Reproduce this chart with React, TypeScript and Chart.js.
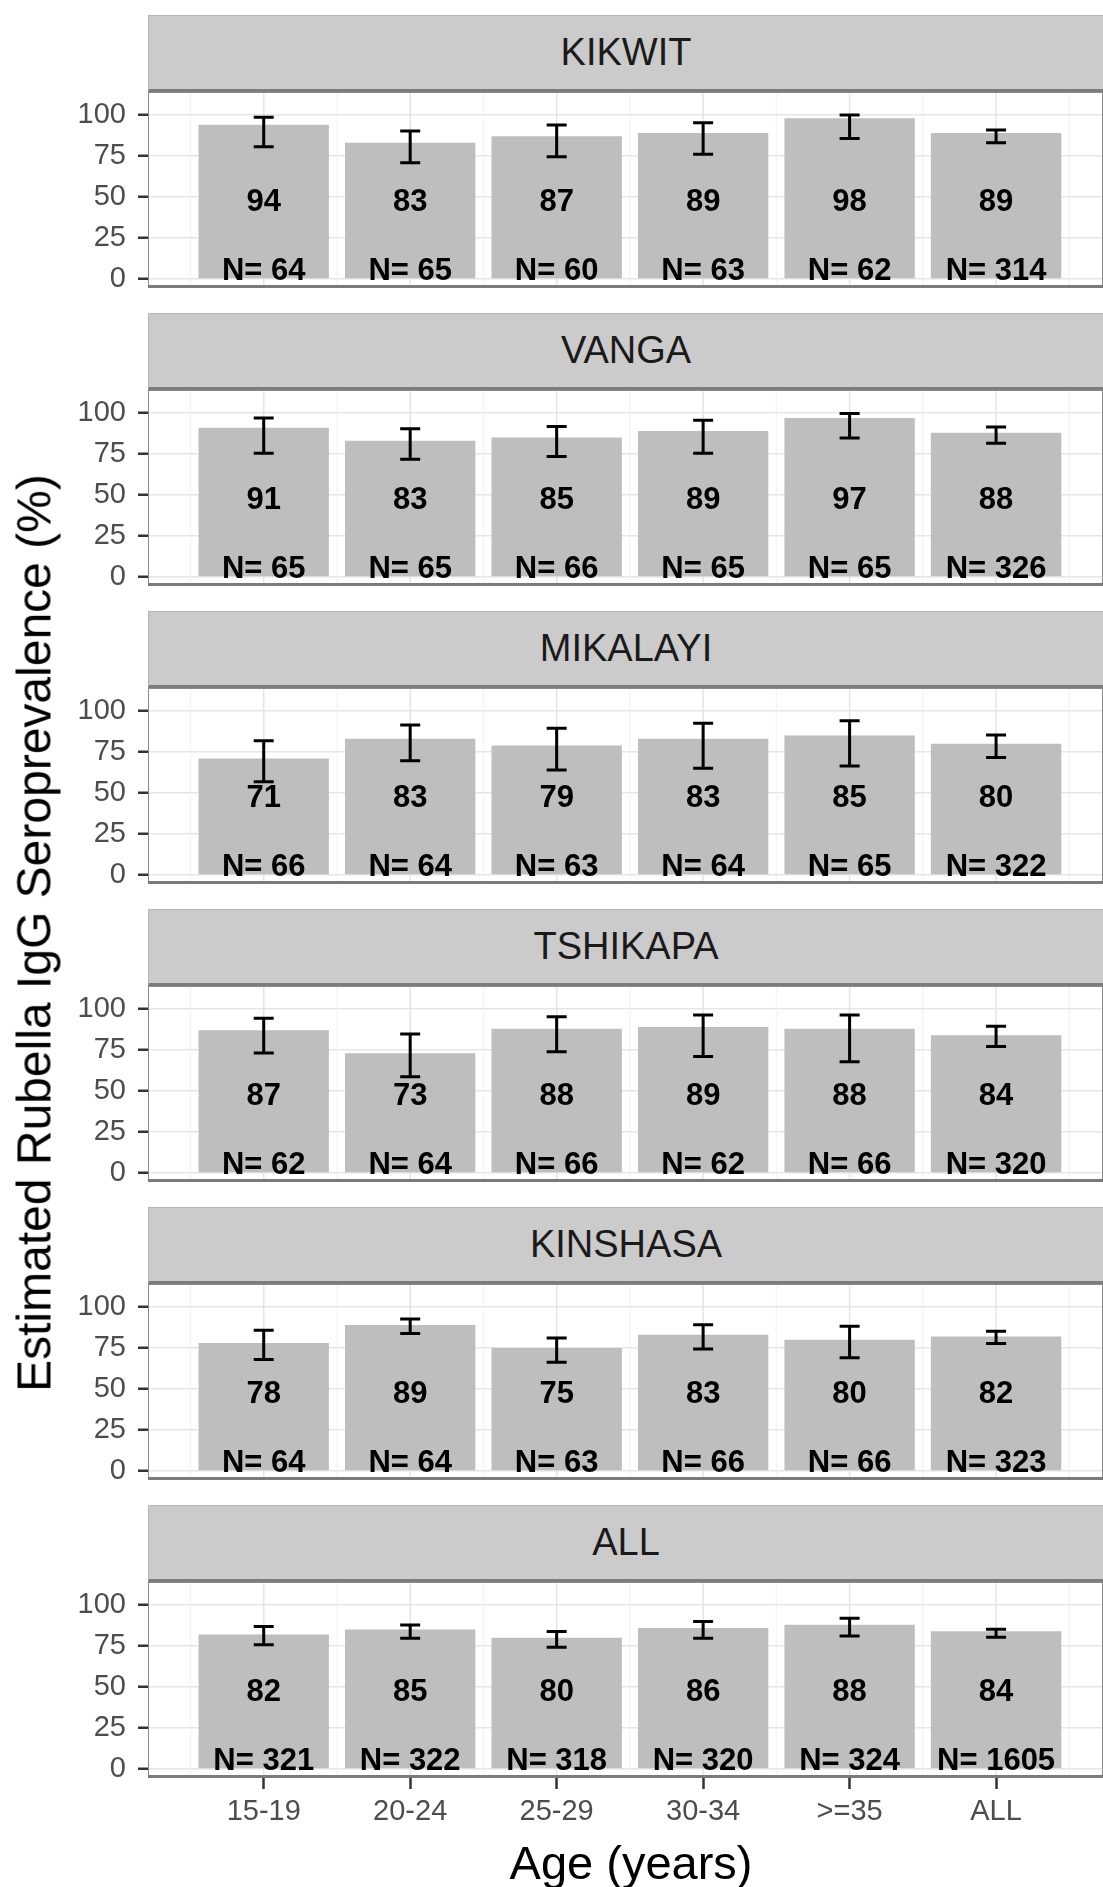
import React, { useEffect, useRef } from 'react';
import { Chart, registerables } from 'chart.js';

Chart.register(...registerables);

// ---------- data ----------
const AGE_GROUPS = ['15-19', '20-24', '25-29', '30-34', '>=35', 'ALL'];
const Y_TICKS = [0, 25, 50, 75, 100];
const Y_MINOR = [12.5, 37.5, 62.5, 87.5, 112.5];

const KIKWIT_PCT = [94, 83, 87, 89, 98, 89];
const KIKWIT_LO = [80.6, 70.8, 74.5, 76.1, 85.7, 83.1];
const KIKWIT_HI = [98.6, 90.2, 93.9, 95.3, 100, 90.8];
const KIKWIT_N = [64, 65, 60, 63, 62, 314];

const VANGA_PCT = [91, 83, 85, 89, 97, 88];
const VANGA_LO = [75.5, 71.8, 73.5, 75.5, 84.7, 81.6];
const VANGA_HI = [97, 90.4, 91.8, 95.5, 99.6, 91.4];
const VANGA_N = [65, 65, 66, 65, 65, 326];

const MIKALAYI_PCT = [71, 83, 79, 83, 85, 80];
const MIKALAYI_LO = [56.9, 69.7, 64, 65, 66.5, 71.7];
const MIKALAYI_HI = [81.9, 91.5, 89.4, 92.5, 94.1, 85.4];
const MIKALAYI_N = [66, 64, 63, 64, 65, 322];

const TSHIKAPA_PCT = [87, 73, 88, 89, 88, 84];
const TSHIKAPA_LO = [73.1, 58.6, 73.9, 71, 67.8, 77.1];
const TSHIKAPA_HI = [94.3, 84.7, 95.3, 96.3, 96.3, 89.4];
const TSHIKAPA_N = [62, 64, 66, 62, 66, 320];

const KINSHASA_PCT = [78, 89, 75, 83, 80, 82];
const KINSHASA_LO = [68, 83.8, 66.3, 74.4, 69, 77.7];
const KINSHASA_HI = [85.8, 92.7, 81.1, 89.2, 88.2, 85.2];
const KINSHASA_N = [64, 64, 63, 66, 66, 323];

const ALL_PCT = [82, 85, 80, 86, 88, 84];
const ALL_LO = [75.7, 79.7, 74.2, 79.7, 81.1, 80.3];
const ALL_HI = [86.8, 87.8, 83.8, 89.9, 91.9, 85.2];
const ALL_N = [321, 322, 318, 320, 324, 1605];

const PANELS = [
  { name: 'KIKWIT', pct: KIKWIT_PCT, lo: KIKWIT_LO, hi: KIKWIT_HI, n: KIKWIT_N },
  { name: 'VANGA', pct: VANGA_PCT, lo: VANGA_LO, hi: VANGA_HI, n: VANGA_N },
  { name: 'MIKALAYI', pct: MIKALAYI_PCT, lo: MIKALAYI_LO, hi: MIKALAYI_HI, n: MIKALAYI_N },
  { name: 'TSHIKAPA', pct: TSHIKAPA_PCT, lo: TSHIKAPA_LO, hi: TSHIKAPA_HI, n: TSHIKAPA_N },
  { name: 'KINSHASA', pct: KINSHASA_PCT, lo: KINSHASA_LO, hi: KINSHASA_HI, n: KINSHASA_N },
  { name: 'ALL', pct: ALL_PCT, lo: ALL_LO, hi: ALL_HI, n: ALL_N },
];

// ---------- style / layout ----------
const FONT = '"Liberation Sans", Arial, Helvetica, sans-serif';
const BAR_COLOR = '#bebebe';
const STRIP_COLOR = '#cbcbcb';
const PAGE_W = 1103;
const PLOT_LEFT = 148;
const FIRST_TOP = 15;
const PITCH = 298;
const STRIP_H = 77;
const PLOT_H = 196;
const X_AXIS_H = 62;
const Y_MIN = -5.5;
const Y_MAX = 114;
const X_MIN = -0.79;
const X_MAX = 5.73;
const LABEL_Y = 46.5;

const decorPlugin = {
  id: 'decor',
  beforeDatasetsDraw(chart: any) {
    const { ctx, chartArea: a, scales } = chart;
    const xs = scales.x;
    ctx.save();
    for (let i = -0.5; i <= AGE_GROUPS.length - 0.5; i += 1) {
      const px = xs.getPixelForValue(i);
      if (px < a.left || px > a.right) continue;
      ctx.strokeStyle = '#f1f1f1';
      ctx.lineWidth = 1;
      ctx.beginPath();
      ctx.moveTo(px, a.top);
      ctx.lineTo(px, a.bottom);
      ctx.stroke();
    }
    AGE_GROUPS.forEach((_, i) => {
      const px = xs.getPixelForValue(i);
      ctx.strokeStyle = '#e4e4e4';
      ctx.lineWidth = 1.5;
      ctx.beginPath();
      ctx.moveTo(px, a.top);
      ctx.lineTo(px, a.bottom);
      ctx.stroke();
    });
    ctx.restore();
  },
  afterDatasetsDraw(chart: any, _args: any, opts: any) {
    const { ctx, chartArea: a, scales } = chart;
    const xs = scales.x;
    const ys = scales.y;
    const p = PANELS[opts.panel];
    ctx.save();
    // error bars
    ctx.strokeStyle = '#000';
    ctx.lineWidth = 3;
    const capHalf = 10;
    p.pct.forEach((_, i) => {
      const px = xs.getPixelForValue(i);
      const yl = ys.getPixelForValue(p.lo[i]);
      const yh = ys.getPixelForValue(p.hi[i]);
      ctx.beginPath();
      ctx.moveTo(px, yl);
      ctx.lineTo(px, yh);
      ctx.moveTo(px - capHalf, yl);
      ctx.lineTo(px + capHalf, yl);
      ctx.moveTo(px - capHalf, yh);
      ctx.lineTo(px + capHalf, yh);
      ctx.stroke();
    });
    // labels
    ctx.fillStyle = '#000';
    ctx.textAlign = 'center';
    ctx.font = 'bold 31px ' + FONT;
    p.pct.forEach((v, i) => {
      const px = xs.getPixelForValue(i);
      ctx.textBaseline = 'middle';
      ctx.fillText(String(v), px, ys.getPixelForValue(LABEL_Y));
      ctx.textBaseline = 'alphabetic';
      ctx.fillText('N= ' + p.n[i], px, ys.getPixelForValue(0) + 1);
    });
    // panel border
    ctx.strokeStyle = '#8a8a8a';
    ctx.lineWidth = 1;
    ctx.strokeRect(a.left + 0.5, a.top + 0.5, a.right - a.left - 1, a.bottom - a.top - 1);
    ctx.strokeStyle = '#7a7a7a';
    ctx.lineWidth = 3;
    ctx.beginPath();
    ctx.moveTo(a.left, a.bottom - 1.5);
    ctx.lineTo(a.right, a.bottom - 1.5);
    ctx.stroke();
    ctx.restore();
  },
};

function Panel({ index }: { index: number }) {
  const ref = useRef<HTMLCanvasElement>(null);
  const isLast = index === PANELS.length - 1;
  const canvasH = PLOT_H + (isLast ? X_AXIS_H : 0);
  const top = FIRST_TOP + PITCH * index;

  useEffect(() => {
    const p = PANELS[index];
    const chart = new Chart(ref.current as HTMLCanvasElement, {
      type: 'bar',
      data: {
        datasets: [
          {
            data: p.pct.map((v, i) => ({ x: i, y: v })) as any,
            backgroundColor: BAR_COLOR,
            borderWidth: 0,
            barPercentage: 0.89,
            categoryPercentage: 1,
          },
        ],
      },
      options: {
        animation: false,
        responsive: false,
        maintainAspectRatio: false,
        layout: { padding: 0 },
        plugins: {
          legend: { display: false },
          tooltip: { enabled: false },
          decor: { panel: index },
        } as any,
        scales: {
          x: {
            type: 'linear',
            display: isLast,
            offset: false,
            min: X_MIN,
            max: X_MAX,
            afterBuildTicks: (s: any) => {
              s.ticks = AGE_GROUPS.map((_, i) => ({ value: i }));
            },
            ticks: {
              autoSkip: false,
              maxRotation: 0,
              padding: 6,
              color: '#4d4d4d',
              font: { family: FONT, size: 29 },
              callback: (v: any) => AGE_GROUPS[v] ?? '',
            },
            grid: {
              display: true,
              offset: false,
              drawOnChartArea: false,
              drawTicks: true,
              tickLength: 11,
              tickWidth: 2.5,
              tickColor: '#333',
            },
            border: { display: false },
            afterFit: (s: any) => {
              s.paddingLeft = 0;
              s.paddingRight = 0;
              if (isLast) s.height = X_AXIS_H;
            },
          } as any,
          y: {
            min: Y_MIN,
            max: Y_MAX,
            afterBuildTicks: (s: any) => {
              s.ticks = [...Y_TICKS, ...Y_MINOR].sort((a, b) => a - b).map((v) => ({ value: v }));
            },
            ticks: {
              padding: 12,
              color: '#4d4d4d',
              font: { family: FONT, size: 29 },
              callback: (v: any) => (Y_TICKS.includes(v) ? String(v) : ''),
            },
            grid: {
              color: (c: any) => (Y_TICKS.includes(c.tick?.value) ? '#e6e6e6' : '#f3f3f3'),
              lineWidth: (c: any) => (Y_TICKS.includes(c.tick?.value) ? 1.5 : 1),
              tickColor: (c: any) => (Y_TICKS.includes(c.tick?.value) ? '#333' : 'rgba(0,0,0,0)'),
              tickLength: 10,
              tickWidth: 2.5,
            },
            border: { display: false },
            afterFit: (s: any) => {
              s.width = PLOT_LEFT;
              s.paddingTop = 0;
              s.paddingBottom = 0;
            },
          } as any,
        },
      },
      plugins: [decorPlugin],
    });
    return () => chart.destroy();
  }, [index]);

  return (
    <>
      <div
        style={{
          position: 'absolute',
          left: PLOT_LEFT,
          top,
          width: PAGE_W - PLOT_LEFT,
          height: STRIP_H,
          boxSizing: 'border-box',
          background: STRIP_COLOR,
          borderTop: '1px solid #b5b5b5',
          borderLeft: '1px solid #b5b5b5',
          borderBottom: '3px solid #7c7c7c',
          display: 'flex',
          alignItems: 'center',
          justifyContent: 'center',
          fontFamily: FONT,
          fontSize: 38,
          color: '#1a1a1a',
        }}
      >
        {PANELS[index].name}
      </div>
      <canvas
        ref={ref}
        width={PAGE_W}
        height={canvasH}
        style={{ position: 'absolute', left: 0, top: top + STRIP_H, width: PAGE_W, height: canvasH }}
      />
    </>
  );
}

export default function App() {
  return (
    <div
      style={{
        position: 'absolute',
        left: 0,
        top: 0,
        width: PAGE_W,
        height: 1887,
        background: '#fff',
        overflow: 'hidden',
      }}
    >
      {PANELS.map((_, i) => (
        <Panel key={i} index={i} />
      ))}
      <div
        style={{
          position: 'absolute',
          left: 34,
          top: 933,
          transform: 'translate(-50%, -50%) rotate(-90deg)',
          whiteSpace: 'nowrap',
          fontFamily: FONT,
          fontSize: 48,
          color: '#000',
        }}
      >
        Estimated Rubella IgG Seroprevalence (%)
      </div>
      <div
        style={{
          position: 'absolute',
          left: 631,
          top: 1862,
          transform: 'translate(-50%, -50%)',
          whiteSpace: 'nowrap',
          fontFamily: FONT,
          fontSize: 47,
          color: '#000',
        }}
      >
        Age (years)
      </div>
    </div>
  );
}
